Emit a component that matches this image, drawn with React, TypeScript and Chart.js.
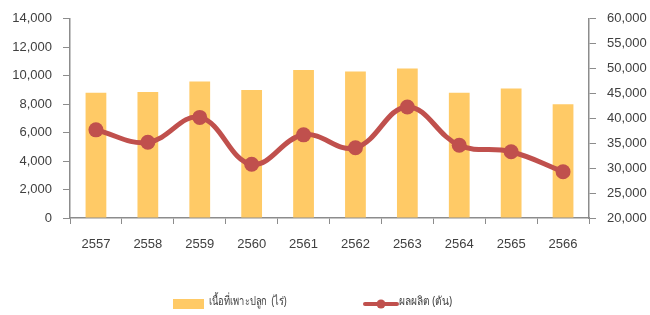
import React, { useEffect, useRef } from "react";
import { Chart, registerables } from "chart.js";

Chart.register(...registerables);

const years = ["2557", "2558", "2559", "2560", "2561", "2562", "2563", "2564", "2565", "2566"];
const plantedAreaRai = [8800, 8850, 9600, 9000, 10400, 10300, 10500, 8800, 9100, 8000];
const productionTon = [37700, 35200, 40200, 30800, 36700, 34100, 42300, 34600, 33300, 29300];

const areaLabel = "เนื้อที่เพาะปลูก  (ไร่)";
const productionLabel = "ผลผลิต (ตัน)";

const BAR_COLOR = "#FFCA66";
const LINE_COLOR = "#C0504D";
const AXIS_COLOR = "#8C8C8C";
const TEXT_COLOR = "#404040";
const TICK_FONT = "'Liberation Sans', Arial, sans-serif";

function drawNarrowText(ctx: CanvasRenderingContext2D, text: string, x: number, y: number, sx: number) {
  ctx.save();
  ctx.translate(x, y);
  ctx.scale(sx, 1);
  ctx.fillText(text, 0, 0);
  ctx.restore();
}

const legendPlugin = {
  id: "bottomLegend",
  afterDraw(chart: any) {
    const ctx = chart.ctx as CanvasRenderingContext2D;
    const y = 304;
    ctx.save();
    ctx.font = "12px Tahoma, 'Noto Sans', sans-serif";
    ctx.textBaseline = "middle";
    // bar swatch
    ctx.fillStyle = BAR_COLOR;
    ctx.fillRect(173, y - 5, 31, 10);
    ctx.fillStyle = TEXT_COLOR;
    drawNarrowText(ctx, areaLabel, 209, y - 2, 0.78);
    // line swatch
    ctx.strokeStyle = LINE_COLOR;
    ctx.lineWidth = 4;
    ctx.lineCap = "round";
    ctx.beginPath();
    ctx.moveTo(365, y);
    ctx.lineTo(397, y);
    ctx.stroke();
    ctx.fillStyle = LINE_COLOR;
    ctx.beginPath();
    ctx.arc(381, y, 4.5, 0, Math.PI * 2);
    ctx.fill();
    ctx.fillStyle = TEXT_COLOR;
    drawNarrowText(ctx, productionLabel, 399, y - 2, 0.85);
    ctx.restore();
  },
};

export default function App() {
  const canvasRef = useRef<HTMLCanvasElement | null>(null);

  useEffect(() => {
    if (!canvasRef.current) return;
    const chart = new Chart(canvasRef.current, {
      type: "bar",
      data: {
        labels: years,
        datasets: [
          {
            type: "line",
            label: productionLabel,
            data: productionTon,
            yAxisID: "y1",
            borderColor: LINE_COLOR,
            backgroundColor: LINE_COLOR,
            borderWidth: 5,
            pointRadius: 7.5,
            pointHoverRadius: 7.5,
            pointBorderWidth: 0,
            pointBackgroundColor: LINE_COLOR,
            pointBorderColor: LINE_COLOR,
            tension: 0.4,
            order: 0,
          } as any,
          {
            type: "bar",
            label: areaLabel,
            data: plantedAreaRai,
            yAxisID: "y",
            backgroundColor: BAR_COLOR,
            barPercentage: 0.4,
            categoryPercentage: 1.0,
            order: 1,
          },
        ],
      },
      options: {
        responsive: false,
        animation: false,
        layout: { padding: { top: 17, bottom: 60, left: 0, right: 0 } },
        plugins: {
          legend: { display: false },
          tooltip: { enabled: false },
        },
        scales: {
          x: {
            grid: {
              offset: true,
              drawOnChartArea: false,
              tickLength: 6,
              color: AXIS_COLOR,
            },
            border: { display: true, color: AXIS_COLOR, width: 1.5 },
            ticks: {
              color: TEXT_COLOR,
              font: { family: TICK_FONT, size: 13 },
              padding: 13,
              maxRotation: 0,
            },
            afterFit(scale: any) {
              scale.height = 37;
            },
          },
          y: {
            position: "left",
            min: 0,
            max: 14000,
            ticks: {
              stepSize: 2000,
              color: TEXT_COLOR,
              font: { family: TICK_FONT, size: 13 },
              padding: 11,
            },
            grid: { drawOnChartArea: false, tickLength: 7, color: AXIS_COLOR },
            border: { display: true, color: AXIS_COLOR, width: 1.5 },
            afterFit(scale: any) {
              scale.width = 70;
            },
          },
          y1: {
            position: "right",
            min: 20000,
            max: 60000,
            ticks: {
              stepSize: 5000,
              color: TEXT_COLOR,
              font: { family: TICK_FONT, size: 13 },
              padding: 11,
            },
            grid: { drawOnChartArea: false, tickLength: 7, color: AXIS_COLOR },
            border: { display: true, color: AXIS_COLOR, width: 1.5 },
            afterFit(scale: any) {
              scale.width = 61;
            },
          },
        },
      },
      plugins: [legendPlugin],
    });
    return () => chart.destroy();
  }, []);

  return (
    <div style={{ position: "fixed", left: 0, top: 0, width: 650, height: 315, background: "#fff" }}>
      <canvas ref={canvasRef} width={650} height={315} style={{ display: "block", width: 650, height: 315 }} />
    </div>
  );
}
